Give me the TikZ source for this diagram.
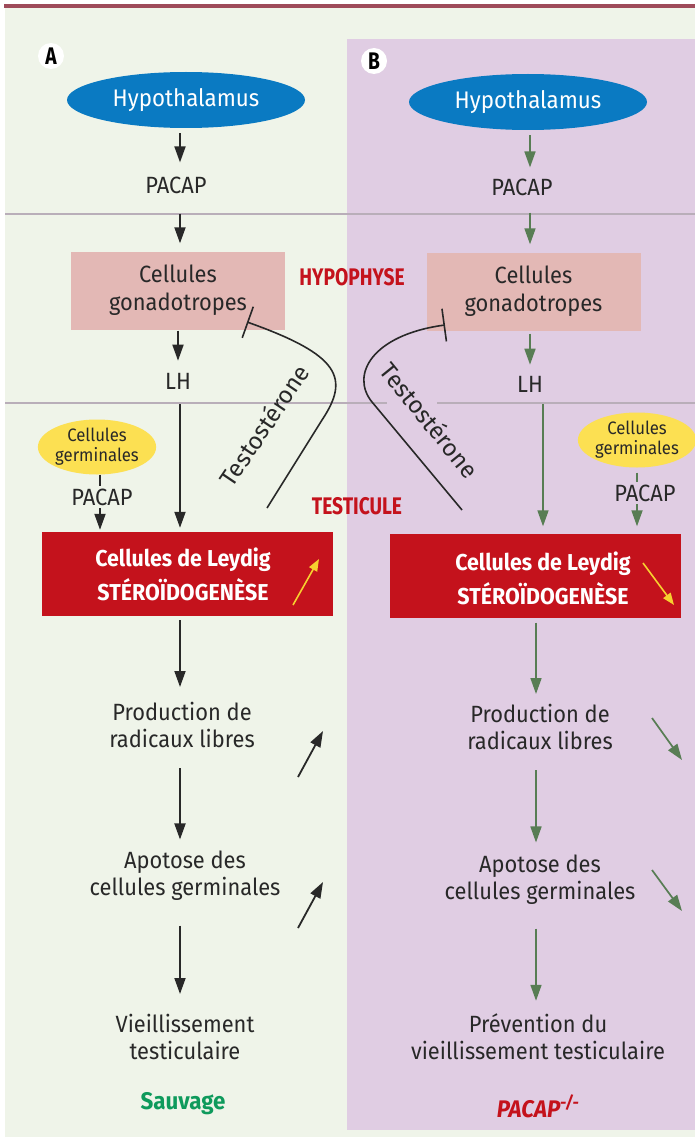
\documentclass[tikz,border=0pt]{standalone}
\usepackage{fontspec}
\setmainfont[FakeStretch=0.93]{Fira Sans}
\newfontfamily\condfont[FakeStretch=0.8]{Fira Sans}
\usetikzlibrary{shapes.geometric,arrows.meta,calc}
\definecolor{bgA}{RGB}{239,244,233}
\definecolor{bgB}{RGB}{224,205,227}
\definecolor{topbar}{RGB}{158,75,90}
\definecolor{hypblue}{RGB}{10,122,194}
\definecolor{gonpink}{RGB}{227,184,181}
\definecolor{leyred}{RGB}{196,18,28}
\definecolor{germyel}{RGB}{252,224,82}
\definecolor{arryel}{RGB}{247,208,47}
\definecolor{arrgreen}{RGB}{88,125,84}
\definecolor{sepgray}{RGB}{185,174,185}
\definecolor{txt}{RGB}{40,40,40}
\definecolor{sauvgreen}{RGB}{14,154,92}
\tikzset{
 lbl/.style={text=txt, font=\fontsize{23.5pt}{27pt}\selectfont, align=center, inner sep=0pt},
 hyp/.style={ellipse, fill=hypblue, text=white, minimum width=238pt, minimum height=56pt, inner sep=0pt, font=\fontsize{24pt}{27pt}\selectfont},
 gon/.style={rectangle, fill=gonpink, minimum width=214pt, minimum height=78pt, inner sep=0pt, text=txt, align=center, font=\fontsize{23.5pt}{28pt}\selectfont},
 germ/.style={ellipse, fill=germyel, minimum width=110pt, minimum height=55pt, inner sep=0pt, text=txt, align=center, font=\fontsize{18pt}{20pt}\selectfont},
 leybox/.style={rectangle, fill=leyred, minimum width=291pt, minimum height=84pt, inner sep=0pt},
 leytxt/.style={text=white, font=\bfseries\fontsize{23pt}{34pt}\selectfont, align=center, inner sep=0pt},
 organ/.style={text=leyred, font=\condfont\bfseries\fontsize{24pt}{26pt}\selectfont, inner sep=0pt},
 badge/.style={circle, fill=white, minimum size=26pt, inner sep=0pt, text=black, font=\condfont\bfseries\fontsize{24pt}{24pt}\selectfont},
 testo/.style={text=txt, font=\addfontfeature{FakeStretch=1.0}\fontsize{24pt}{27pt}\selectfont, inner sep=0pt},
 blk/.style={draw=txt, line width=1.8pt, -{Triangle[length=16pt,width=11pt]}},
 grn/.style={draw=arrgreen, line width=1.7pt, -{Triangle[length=16pt,width=11pt]}},
 yel/.style={draw=arryel, line width=1.6pt, -{Triangle[length=12pt,width=9pt]}},
 inhib/.style={draw=txt, line width=1.6pt, -{Bar[width=33pt]}},
 sep/.style={draw=sepgray, line width=1.2pt},
}
\begin{document}
\begin{tikzpicture}[x=1pt,y=-1pt]
\path[use as bounding box] (0,0) rectangle (695,1137);
% backgrounds
\fill[white] (0,0) rectangle (695,1137);
\fill[bgA] (5,8) rectangle (695,1137);
\fill[topbar] (4,4.5) rectangle (695,8);
\fill[bgB] (347,39) rectangle (695,1130);
\draw[sep] (5,214) -- (695,214);
\draw[sep] (5,403) -- (387,403);
\draw[sep] (437,403) -- (695,403);

% column coordinates
\coordinate (cA) at (180,0);
\coordinate (gA) at (100,0);
\coordinate (cB) at (530,0);
\coordinate (cB2) at (536,0);
\coordinate (gB) at (637,0);

% ---------- Panel A ----------
\node[badge] (badgeA) at (51,56) {A};
\node[hyp] (hypA) at (186,100) {Hypothalamus};
\node[lbl] (pacapA) at (176,185) {PACAP};
\node[gon] (gonA) at (178,290.5) {Cellules\\gonadotropes};
\node[lbl] (lhA) at (178,381) {LH};
\node[germ] (germA) at (97,447) {Cellules\\germinales};
\node[leybox] (leyA) at (187.5,574) {};
\node[leytxt] (leyTA) at (183,574) {Cellules de Leydig\\STÉROÏDOGENÈSE};
\node[lbl] (prodA) at (182,725) {Production de\\radicaux libres};
\node[lbl] (apoA) at (185,875.5) {Apotose des\\cellules germinales};
\node[lbl] (vieA) at (185,1037) {Vieillissement\\testiculaire};
\node[text=sauvgreen, inner sep=0pt, font=\bfseries\fontsize{24pt}{26pt}\selectfont] (sauv) at (183,1104) {Sauvage};

\draw[blk, shorten <=5pt, shorten >=14pt] (hypA.south -| cA) -- (pacapA.north -| cA);
\draw[blk, shorten <=20pt, shorten >=8pt] (pacapA.south -| cA) -- (gonA.north -| cA);
\draw[blk, shorten <=1pt, shorten >=12pt] (gonA.south -| lhA) -- (lhA.north);
\draw[blk, shorten <=15pt, shorten >=4pt] (lhA.south -| cA) -- (leyA.north -| cA);
\draw[blk, shorten >=2pt] (germA.south -| gA) -- (leyA.north -| gA);
\node[lbl, fill=bgA, inner sep=3pt] (pacapGA) at (102,497) {PACAP};
\draw[blk, shorten <=4pt, shorten >=15pt] (leyA.south -| cA) -- (prodA.north -| cA);
\draw[blk, shorten <=20pt, shorten >=11pt] (prodA.south -| cA) -- (apoA.north -| cA);
\draw[blk, shorten <=25pt, shorten >=20pt] (apoA.south -| cA) -- (vieA.north -| cA);

% yellow / black indicator arrows
\coordinate (yA0) at (293,605); \coordinate (yA1) at (319,559);
\draw[yel] (yA0) -- (yA1);
\coordinate (dA0) at (298,777); \coordinate (dA1) at (323,731);
\draw[blk] (dA0) -- (dA1);
\coordinate (dA2) at (298,928); \coordinate (dA3) at (323,882);
\draw[blk] (dA2) -- (dA3);

% testosterone feedback A
\coordinate (tA0) at (267,508); \coordinate (tA1) at (322,420); \coordinate (tAe) at (247,322);
\draw[inhib] (tA0) -- (tA1) .. controls (350,378) and (340,355) .. (tAe);
\node[testo, rotate=56] (testoA) at (264,425) {Testostérone};

% organ labels
\node[organ] (hypoph) at (352,277) {HYPOPHYSE};
\node[organ] (testic) at (357,506) {TESTICULE};

% ---------- Panel B ----------
\node[badge] (badgeB) at (374,61) {B};
\node[hyp] (hypB) at (528,102) {Hypothalamus};
\node[lbl] (pacapB) at (522,187) {PACAP};
\node[gon] (gonB) at (533.5,291.5) {Cellules\\gonadotropes};
\node[lbl] (lhB) at (530,384) {LH};
\node[germ] (germB) at (637,440) {Cellules\\germinales};
\node[leybox] (leyB) at (535.5,575.5) {};
\node[leytxt] (leyTB) at (543,578) {Cellules de Leydig\\STÉROÏDOGENÈSE};
\node[lbl] (prodB) at (540,727) {Production de\\radicaux libres};
\node[lbl] (apoB) at (540,879.5) {Apotose des\\cellules germinales};
\node[lbl] (prevB) at (538,1037) {Prévention du\\vieillissement testiculaire};
\node[text=leyred, inner sep=0pt, font=\bfseries\itshape\fontsize{24pt}{26pt}\selectfont] (ko) at (538,1106) {PACAP\textsuperscript{-/-}};

\draw[grn, shorten <=5pt, shorten >=11pt] (hypB.south -| cB) -- (pacapB.north -| cB);
\draw[grn, shorten <=17pt, shorten >=8pt] (pacapB.south -| cB) -- (gonB.north -| cB);
\draw[grn, shorten <=3pt, shorten >=11pt] (gonB.south -| lhB) -- (lhB.north);
\draw[grn, shorten <=12pt, shorten >=7pt] (lhB.south -| leyTB) -- (leyB.north -| leyTB);
\draw[grn, shorten <=5pt, shorten >=7pt] (germB.south -| gB) -- (leyB.north -| gB);
\node[lbl, fill=bgB, inner sep=3pt] (pacapGB) at (645,493) {PACAP};
\draw[grn, shorten <=5pt, shorten >=10pt] (leyB.south -| cB2) -- (prodB.north -| cB2);
\draw[grn, shorten <=20pt, shorten >=12pt] (prodB.south -| cB2) -- (apoB.north -| cB2);
\draw[grn, shorten <=24pt, shorten >=13pt] (apoB.south -| cB2) -- (prevB.north -| cB2);

\coordinate (yB0) at (643,563); \coordinate (yB1) at (674,605);
\draw[yel] (yB0) -- (yB1);
\coordinate (dB0) at (652,718); \coordinate (dB1) at (682,760);
\draw[grn] (dB0) -- (dB1);
\coordinate (dB2) at (652,870); \coordinate (dB3) at (682,911);
\draw[grn] (dB2) -- (dB3);

% testosterone feedback B
\coordinate (tB0) at (462,510); \coordinate (tB1) at (372,402); \coordinate (tBe) at (445,325);
\draw[inhib] (tB0) -- (tB1) .. controls (350,375) and (372,335) .. (tBe);
\node[testo, rotate=-51] (testoB) at (430,420) {Testostérone};
\end{tikzpicture}
\end{document}
